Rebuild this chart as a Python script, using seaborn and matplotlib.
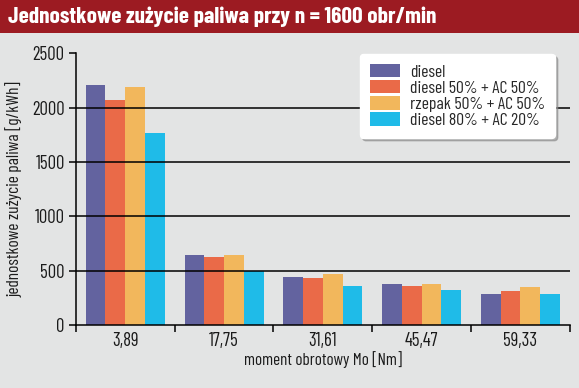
import numpy as np
import pandas as pd
import matplotlib.pyplot as plt
import seaborn as sns
from matplotlib.patches import Rectangle

# values
torque = ["3,89", "17,75", "31,61", "45,47", "59,33"]
series = ["diesel", "diesel 50% + AC 50%", "rzepak 50% + AC 50%", "diesel 80% + AC 20%"]
diesel = [2210, 645, 442, 378, 285]
diesel_ac50 = [2072, 626, 433, 359, 313]
rzepak_ac50 = [2192, 645, 470, 378, 350]
diesel_ac20 = [1768, 500, 359, 322, 285]
colors = ["#63639f", "#ea6a48", "#f2b75c", "#1fbbe8"]

df = pd.DataFrame({
    "torque": torque * 4,
    "fuel": np.repeat(series, len(torque)),
    "value": diesel + diesel_ac50 + rzepak_ac50 + diesel_ac20,
})

sns.set_style("white")
plt.rcParams["font.family"] = ["Barlow Condensed", "DejaVu Sans"]

bg = "#e3e4e4"
fig = plt.figure(figsize=(5.79, 3.88), dpi=100, facecolor=bg)
ax = fig.add_axes([0.131, 0.162, 0.853, 0.701])
ax.set_facecolor(bg)

sns.barplot(data=df, x="torque", y="value", hue="fuel", hue_order=series,
            palette=colors, width=0.8, saturation=1, linewidth=0,
            errorbar=None, ax=ax)

ax.set_xlim(-0.5, 4.5)
ax.set_ylim(0, 2500)
ax.set_yticks([0, 500, 1000, 1500, 2000, 2500])
for y in [500, 1000, 1500, 2000]:
    ax.axhline(y, color="black", lw=1.1, zorder=5)

for s in ["top", "right"]:
    ax.spines[s].set_visible(False)
for s in ["left", "bottom"]:
    ax.spines[s].set_color("black")
    ax.spines[s].set_linewidth(1.1)
    ax.spines[s].set_zorder(6)

ax.tick_params(axis="y", direction="out", length=5, width=1.1, color="black",
               labelsize=13.5, left=True, pad=3, labelcolor="#1a1a1a")
ax.tick_params(axis="x", which="major", length=0, labelsize=13.5, pad=5,
               labelcolor="#1a1a1a")
ax.set_xticks(np.arange(-0.5, 5.0, 1.0), minor=True)
ax.tick_params(axis="x", which="minor", direction="out", length=5, width=1.1,
               color="black", bottom=True)

ax.set_xlabel("moment obrotowy Mo [Nm]", fontsize=12.3, labelpad=1, color="#1a1a1a")
ax.set_ylabel("jednostkowe zużycie paliwa [g/kWh]", fontsize=12.5, labelpad=7,
              color="#1a1a1a")

leg = ax.legend(loc="upper right", bbox_to_anchor=(0.97, 0.997), fontsize=12.7,
                frameon=True, fancybox=True, shadow={"color": "0.55", "alpha": 0.6},
                framealpha=1, facecolor="white", edgecolor="white",
                handlelength=1.7, handleheight=0.8, handletextpad=0.6,
                labelspacing=0.02, borderpad=0.55, borderaxespad=0, title=None)
leg.set_zorder(10)

# red title bar
fig.patches.append(Rectangle((0, 0.915), 1, 0.085, transform=fig.transFigure,
                             facecolor="#9c1b22", edgecolor="none", zorder=0))
fig.text(0.014, 0.957, "Jednostkowe zużycie paliwa przy n = 1600 obr/min",
         color="white", fontsize=16.8, fontweight="bold", va="center", ha="left")

fig.savefig("out.png", dpi=100, facecolor=bg)
